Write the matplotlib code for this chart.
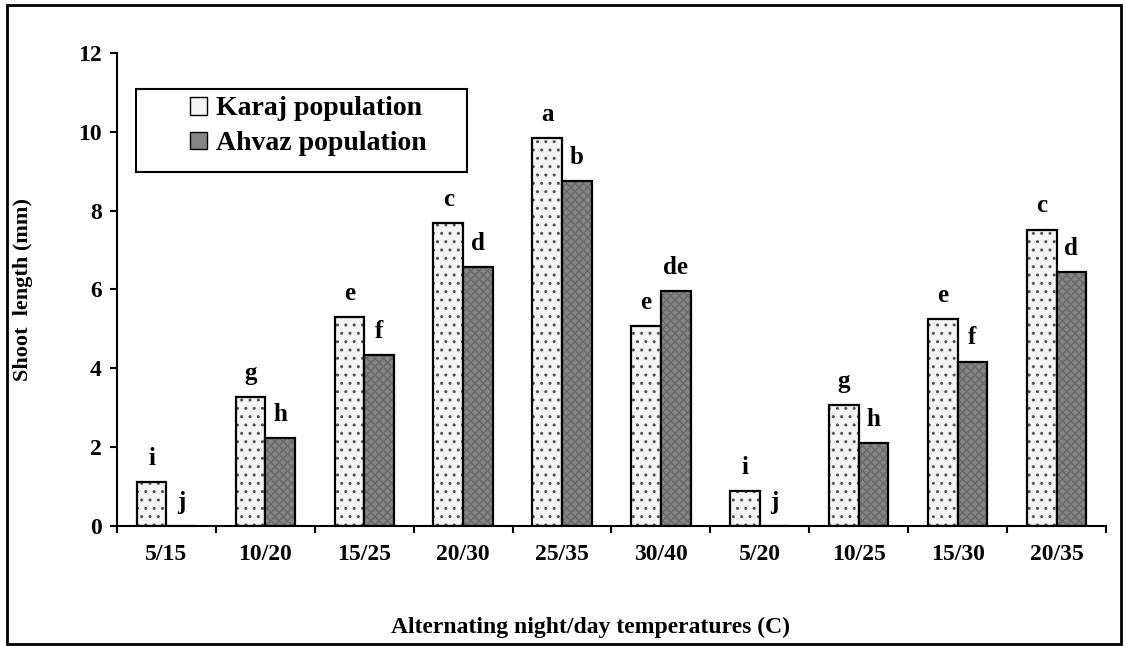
import numpy as np
import matplotlib.pyplot as plt
from matplotlib.patches import Patch, Rectangle

plt.rcParams['font.family'] = ['Liberation Serif', 'DejaVu Serif']
plt.rcParams['font.weight'] = 'bold'

temps = ['5/15', '10/20', '15/25', '20/30', '25/35', '30/40',
         '5/20', '10/25', '15/30', '20/35']
karaj = [1.12, 3.27, 5.30, 7.68, 9.85, 5.08, 0.88, 3.07, 5.24, 7.52]
ahvaz = [0.0, 2.23, 4.33, 6.56, 8.75, 5.97, 0.0, 2.11, 4.17, 6.45]
karaj_letters = ['i', 'g', 'e', 'c', 'a', 'e', 'i', 'g', 'e', 'c']
ahvaz_letters = ['j', 'h', 'f', 'd', 'b', 'de', 'j', 'h', 'f', 'd']

fig = plt.figure(figsize=(11.26, 6.46), dpi=100)
ax = fig.add_axes([0.1039, 0.1858, 0.8783, 0.7322])

x = np.arange(len(temps))
w = 0.30

# fill with texture first, then a plain black outline on top
ax.bar(x - w / 2, karaj, w, color='#f4f4f4', edgecolor='#555555',
       hatch='..', linewidth=0)
ax.bar(x - w / 2, karaj, w, fill=False, edgecolor='black', linewidth=1.6)
ax.bar(x + w / 2, ahvaz, w, color='#858585', edgecolor='#6a6a6a',
       hatch='xxxx', linewidth=0)
ax.bar(x + w / 2, ahvaz, w, fill=False, edgecolor='black', linewidth=1.6)

off = 0.6
for i in range(len(temps)):
    ax.text(x[i] - w / 2, karaj[i] + off, karaj_letters[i], ha='center',
            va='center', fontsize=18, fontweight='bold')
    ax.text(x[i] + w / 2, ahvaz[i] + off, ahvaz_letters[i], ha='center',
            va='center', fontsize=18, fontweight='bold')

ax.set_xlim(-0.5, len(temps) - 0.5)
ax.set_ylim(0, 12)
ax.set_yticks(np.arange(0, 13, 2))
ax.tick_params(axis='y', direction='out', length=5, width=1.5, pad=6,
               labelsize=17)
ax.set_xticks(np.arange(-0.5, len(temps), 1))
ax.set_xticklabels([])
ax.tick_params(axis='x', which='major', direction='out', length=5, width=1.5)
ax.set_xticks(x, minor=True)
ax.set_xticklabels(temps, minor=True, fontsize=17, fontweight='bold')
ax.tick_params(axis='x', which='minor', length=0, pad=13)
for lab in ax.get_yticklabels():
    lab.set_fontweight('bold')

for s in ['top', 'right']:
    ax.spines[s].set_visible(False)
for s in ['left', 'bottom']:
    ax.spines[s].set_linewidth(1.5)

# legend box
ax.add_patch(Rectangle((0.0192, 0.748), 0.3347, 0.1755, transform=ax.transAxes,
                       fill=False, edgecolor='black', linewidth=1.5,
                       clip_on=False, zorder=5))
handles = [Patch(facecolor='#f4f4f4', edgecolor='black', linewidth=1),
           Patch(facecolor='#858585', edgecolor='black', linewidth=1)]
ax.legend(handles, ['Karaj population', 'Ahvaz population'],
          loc='upper left', bbox_to_anchor=(0.0738, 0.908), frameon=False,
          borderpad=0, borderaxespad=0, handlelength=0.6, handleheight=0.6,
          handletextpad=0.35, labelspacing=0.35,
          prop={'size': 20, 'weight': 'bold'})

ax.set_ylabel('Shoot  length (mm)', fontsize=16, fontweight='bold')
ax.yaxis.set_label_coords(-0.085, 0.5)
fig.text(0.524, 0.029, 'Alternating night/day temperatures (C)', ha='center',
         va='center', fontsize=17, fontweight='bold')

fig.patches.append(Rectangle((0.0062, 0.0031), 0.9893, 0.9892,
                             transform=fig.transFigure, fill=False,
                             edgecolor='black', linewidth=2))

fig.savefig('out.png', dpi=100)
